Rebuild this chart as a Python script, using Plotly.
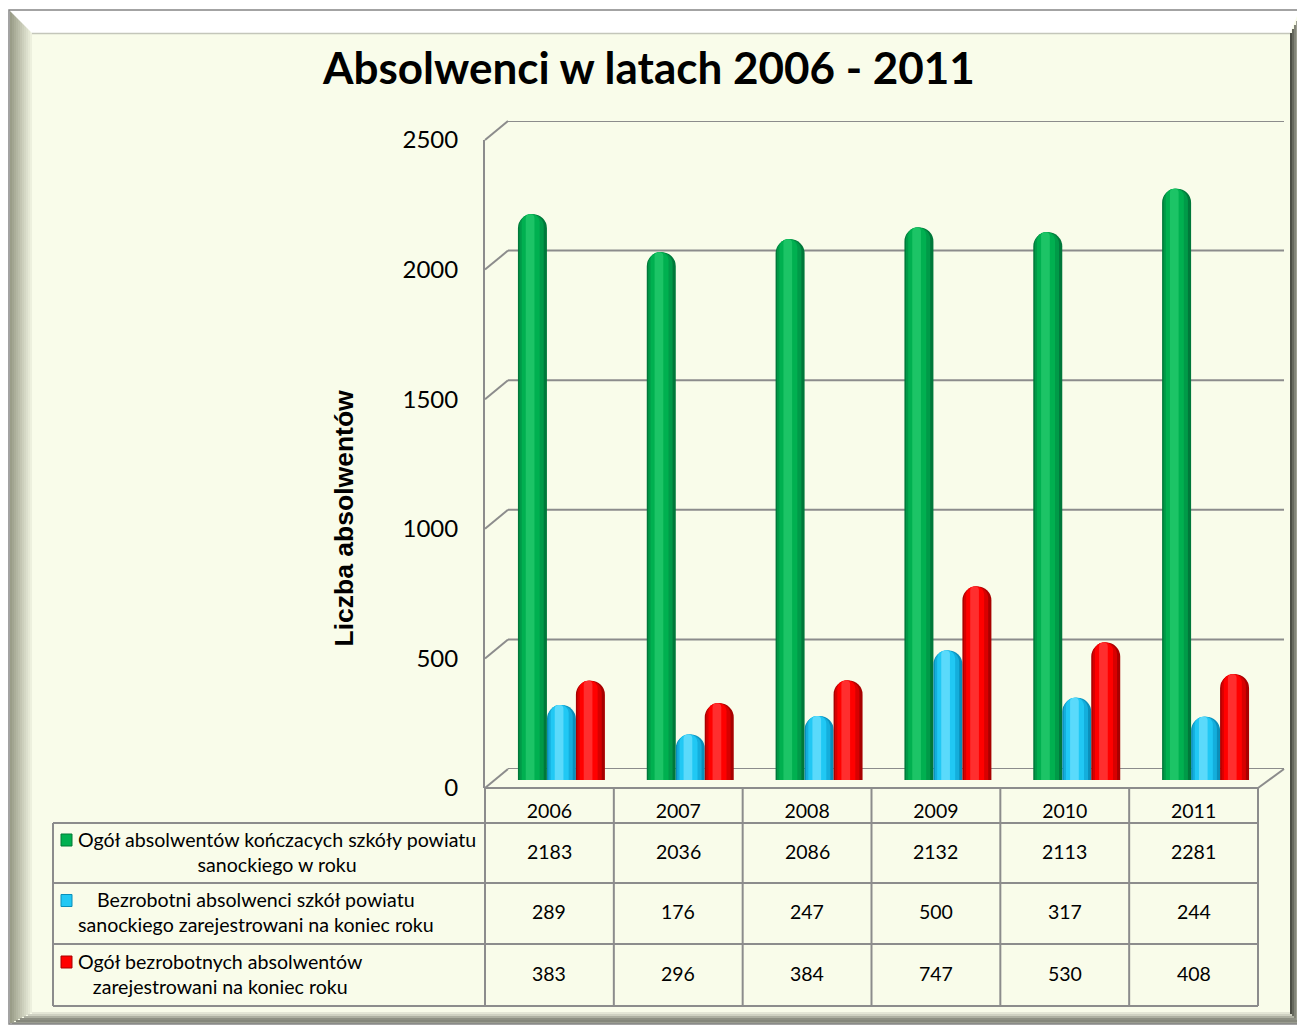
import plotly.graph_objects as go

# ---------------- data ----------------
years = ["2006", "2007", "2008", "2009", "2010", "2011"]
series_labels = [
    "Ogół absolwentów kończacych szkóły powiatu<br>sanockiego w roku",
    "Bezrobotni absolwenci szkół powiatu<br>sanockiego zarejestrowani na koniec roku",
    "Ogół bezrobotnych absolwentów<br>zarejestrowani na koniec roku",
]
graduates_total = [2183, 2036, 2086, 2132, 2113, 2281]
unemployed_school_grads = [289, 176, 247, 500, 317, 244]
unemployed_grads_total = [383, 296, 384, 747, 530, 408]
y_ticks = [0, 500, 1000, 1500, 2000, 2500]

title_text = "Absolwenci w latach 2006 - 2011"
y_title_text = "Liczba absolwentów"

# ---------------- geometry helpers ----------------
W, H = 1305, 1030
OFF = 8  # page body margin
def px(x):
    return (x - OFF) / W
def py(y):
    return 1 - (y - OFF) / H

FONT = "Lato, 'Open Sans', sans-serif"
ARIAL = "'Liberation Sans', Arial, sans-serif"
GRID = "#8C8C8C"
BG = "#F9FCEA"
TXT = "#000000"

Y_MAX = 2500
FRONT0, FRONTTOP = 788, 140
BACK0, BACKTOP = 769, 121
BAR0, BARTOP = 780, 132

def front_y(v):
    return FRONT0 - (FRONT0 - FRONTTOP) * v / Y_MAX
def back_y(v):
    return BACK0 - (BACK0 - BACKTOP) * v / Y_MAX

fig = go.Figure()

# ---------------- cylinders (layered bars) ----------------
series_values = [graduates_total, unemployed_school_grads, unemployed_grads_total]
palettes = [
    ["#00783A", "#009A48", "#00B050", "#1CC466"],
    ["#0A8FBA", "#14AEDC", "#20C8F4", "#5ADAFB"],
    ["#A80000", "#D80000", "#FF0000", "#FF2E2E"],
]
bar_w = 0.225
centers = [-bar_w, 0.0, bar_w]
layers = [(1.0, 0.0), (0.84, -0.03), (0.62, -0.06), (0.3, -0.08)]

for vals, pal, c in zip(series_values, palettes, centers):
    for (frac, shift), col in zip(layers, pal):
        wl = bar_w * frac
        fig.add_trace(go.Bar(
            x=years, y=vals,
            width=[wl] * len(years),
            offset=[c - wl / 2 + shift * bar_w] * len(years),
            marker=dict(color=col, cornerradius="50%", line=dict(width=0)),
            xaxis="x", yaxis="y", showlegend=False, hoverinfo="skip",
        ))

# helper traces so the table / wall axes exist
fig.add_trace(go.Scatter(x=years, y=[None] * 6, xaxis="x3", yaxis="y3",
                         showlegend=False, hoverinfo="skip"))
fig.add_trace(go.Scatter(x=[0.5], y=[None], xaxis="x2", yaxis="y2",
                         showlegend=False, hoverinfo="skip"))

shapes = []

# ---------------- frame / bevel ----------------
def hexmix(c1, c2, t):
    a = [int(c1[i:i + 2], 16) for i in (1, 3, 5)]
    b = [int(c2[i:i + 2], 16) for i in (1, 3, 5)]
    return "#%02X%02X%02X" % tuple(round(a[k] + (b[k] - a[k]) * t) for k in range(3))

def prect(x0, y0, x1, y1, fill, line=None, lw=0):
    return dict(type="rect", xref="paper", yref="paper",
                x0=px(x0), x1=px(x1), y0=py(y0), y1=py(y1),
                fillcolor=fill, line=dict(width=lw, color=line or fill), layer="below")

shapes.append(prect(10, 11, 1299, 1023, BG))
n = 11
for k in range(n):
    x0 = 10 + k * 2
    shapes.append(prect(x0, 11 + k * 2, x0 + 2, 1023 - k, hexmix("#9A9D88", "#EDF0DE", k / (n - 1))))
for k in range(5):
    x0 = 1290 + k * 2
    shapes.append(prect(x0, 33 - k * 4, x0 + 2, 1023, hexmix("#4C4E45", "#B8BAAA", k / 4)))
bot_cols = ["#E4E6D6", "#CFD1C2", "#AEB0A2", "#8E9084", "#85877B", "#9A9C90"]
for k, col in enumerate(bot_cols):
    y0 = 1012 + k * 2
    shapes.append(prect(32 - k * 4, y0, 1290 + k * 2, y0 + 2, col))
shapes.append(dict(type="path", xref="paper", yref="paper",
                   path="M %f,%f L %f,%f L %f,%f L %f,%f Z" % (
                       px(10), py(11), px(1299), py(11), px(1290), py(33), px(32), py(33)),
                   fillcolor="#FFFFFF", line=dict(width=0), layer="below"))
shapes.append(dict(type="line", xref="paper", yref="paper",
                   x0=px(32), x1=px(1290), y0=py(33.5), y1=py(33.5),
                   line=dict(color="#C4C6BA", width=1.5), layer="below"))
shapes.append(dict(type="rect", xref="paper", yref="paper",
                   x0=px(9), x1=px(1300), y0=py(10), y1=py(1024),
                   line=dict(color="#858585", width=1.5), fillcolor="rgba(0,0,0,0)", layer="below"))

# ---------------- 3D wall gridlines ----------------
for v in y_ticks:
    shapes.append(dict(type="line", xref="x2 domain", yref="y2",
                       x0=0, x1=1, y0=v, y1=v,
                       line=dict(color=GRID, width=2), layer="below"))
    shapes.append(dict(type="line", xref="paper", yref="paper",
                       x0=px(485), x1=px(508), y0=py(front_y(v)), y1=py(back_y(v)),
                       line=dict(color=GRID, width=2), layer="below"))
shapes.append(dict(type="line", xref="paper", yref="paper",
                   x0=px(1258), x1=px(1284), y0=py(front_y(0)), y1=py(back_y(0)),
                   line=dict(color=GRID, width=2), layer="below"))

# ---------------- data table ----------------
TBL_L, TBL_X0, TBL_X1 = 53, 485, 1258
HDR_T = 788
ROWS = [823, 883, 944, 1006]
col_w = (TBL_X1 - TBL_X0) / len(years)

def pline(x0, y0, x1, y1, col=GRID, w=2):
    return dict(type="line", xref="paper", yref="paper",
                x0=px(x0), x1=px(x1), y0=py(y0), y1=py(y1),
                line=dict(color=col, width=w), layer="above")

shapes.append(pline(TBL_X0, HDR_T, TBL_X1, HDR_T))
for y in ROWS:
    shapes.append(pline(TBL_L, y, TBL_X1, y))
shapes.append(pline(TBL_L, ROWS[0], TBL_L, ROWS[-1]))
for k in range(len(years) + 1):
    x = TBL_X0 + k * col_w
    shapes.append(pline(x, HDR_T, x, ROWS[-1]))

annotations = []
key_cols = [("#00B050", "#007A35"), ("#22C8F4", "#0A8FBA"), ("#FF0000", "#A80000")]
for r, (lab, vals, kc) in enumerate(zip(series_labels, series_values, key_cols)):
    yc = (ROWS[r] + ROWS[r + 1]) / 2
    for j, v in enumerate(vals):
        annotations.append(dict(x=j, xref="x3", y=py(yc - 2), yref="paper",
                                text=str(v), showarrow=False,
                                font=dict(family=FONT, size=19.5, color=TXT),
                                xanchor="center", yanchor="middle"))
    annotations.append(dict(x=px(76), xref="paper", y=py(yc - 1.5), yref="paper",
                            text=lab, showarrow=False, align="center",
                            font=dict(family=FONT, size=19.6, color=TXT),
                            xanchor="left", yanchor="middle"))
    ky = yc - 13
    shapes.append(dict(type="rect", xref="paper", yref="paper",
                       x0=px(61), x1=px(72), y0=py(ky - 6), y1=py(ky + 6),
                       fillcolor=kc[0], line=dict(color=kc[1], width=1), layer="above"))

annotations.append(dict(x=px(648), y=py(67), xref="paper", yref="paper",
                        text="<b>%s</b>" % title_text, showarrow=False,
                        font=dict(family=FONT, size=44, color=TXT),
                        xanchor="center", yanchor="middle"))
annotations.append(dict(x=px(343), y=py(518.5), xref="paper", yref="paper",
                        text="<b>%s</b>" % y_title_text, showarrow=False, textangle=-90,
                        font=dict(family=ARIAL, size=26.5, color=TXT),
                        xanchor="center", yanchor="middle"))

fig.update_layout(
    template="none",
    width=W, height=H,
    margin=dict(l=0, r=0, t=0, b=0, pad=0, autoexpand=False),
    paper_bgcolor="#FFFFFF", plot_bgcolor="rgba(0,0,0,0)",
    barmode="overlay", showlegend=False,
    shapes=shapes, annotations=annotations,
    xaxis=dict(domain=[px(497), px(1270)], type="category", range=[-0.5, 5.5],
               visible=False, anchor="y", automargin=False),
    yaxis=dict(domain=[py(BAR0), py(BARTOP)], range=[0, Y_MAX], visible=False,
               anchor="x", automargin=False),
    xaxis2=dict(domain=[px(508), px(1284)], range=[0, 1], visible=False, anchor="y2",
                automargin=False),
    yaxis2=dict(domain=[py(BACK0), py(BACKTOP)], range=[0, Y_MAX], visible=False,
                anchor="x2", automargin=False),
    xaxis3=dict(domain=[px(485), px(1258)], type="category", range=[-0.5, 5.5],
                anchor="y3", showline=False, showgrid=False, zeroline=False,
                automargin=False,
                ticks="outside", ticklen=6, tickcolor="rgba(0,0,0,0)",
                tickfont=dict(family=FONT, size=19.5, color=TXT)),
    yaxis3=dict(domain=[py(FRONT0), py(FRONTTOP)], range=[0, Y_MAX], anchor="x3",
                tickvals=y_ticks, ticktext=[str(t) for t in y_ticks],
                showline=True, linecolor=GRID, linewidth=2, showgrid=False, zeroline=False,
                automargin=False,
                ticks="outside", ticklen=20, tickcolor="rgba(0,0,0,0)",
                tickfont=dict(family=FONT, size=24, color=TXT)),
)

fig.write_html("out.html")
